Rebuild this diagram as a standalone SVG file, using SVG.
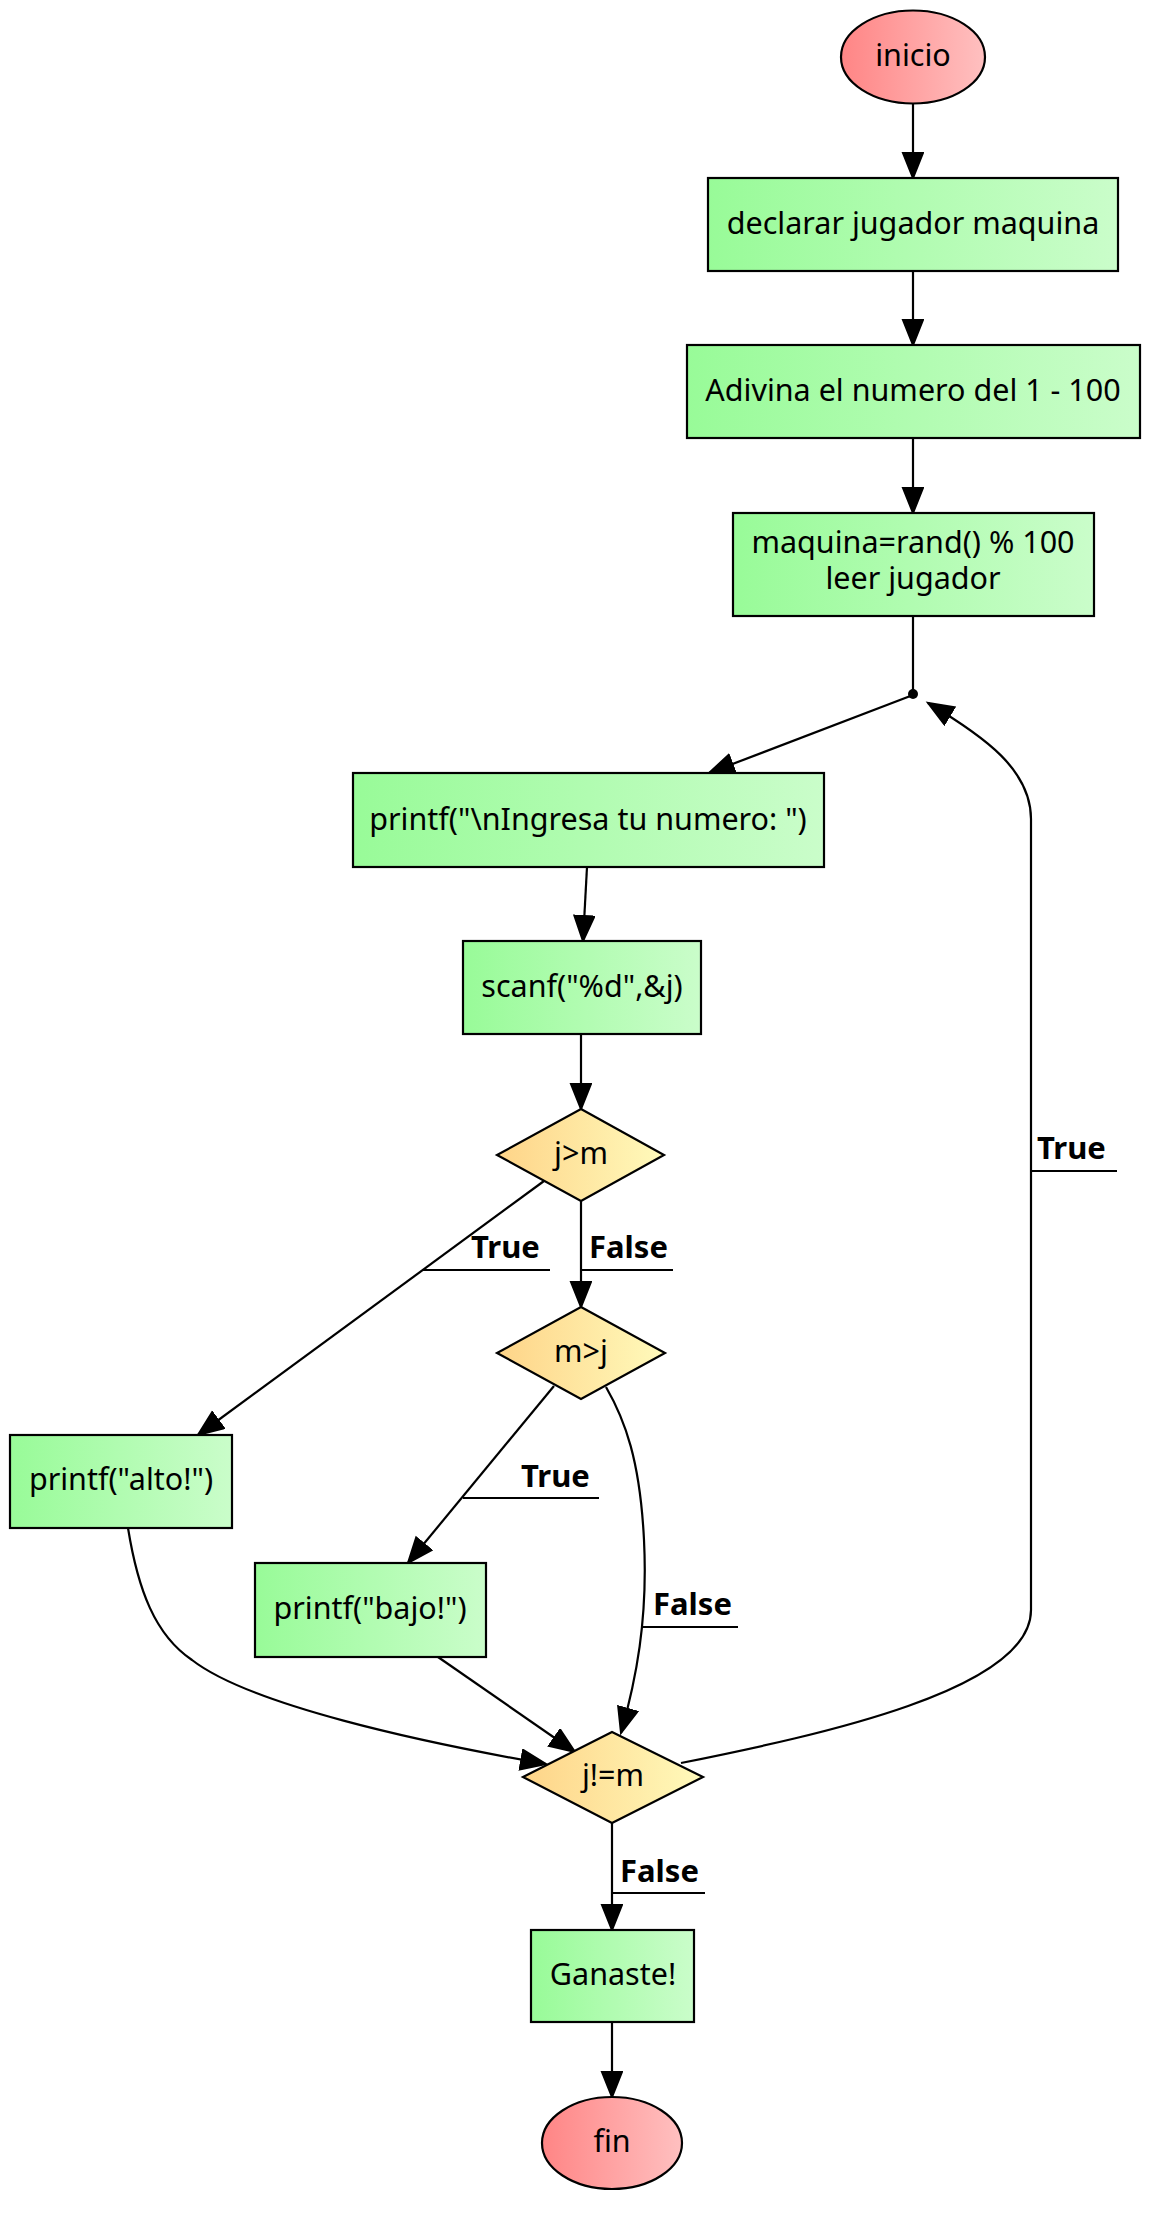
<svg xmlns="http://www.w3.org/2000/svg" width="1164" height="2214" viewBox="0 0 1164 2214">
<defs>
<linearGradient id="gG" x1="0" y1="0" x2="1" y2="0"><stop offset="0" stop-color="#98fb98"/><stop offset="1" stop-color="#cafdca"/></linearGradient>
<linearGradient id="gO" x1="0" y1="0" x2="1" y2="0"><stop offset="0" stop-color="#fed488"/><stop offset="1" stop-color="#fffabb"/></linearGradient>
<linearGradient id="gR" x1="0" y1="0" x2="1" y2="0"><stop offset="0" stop-color="#ff8585"/><stop offset="1" stop-color="#ffc0c0"/></linearGradient>
<marker id="arr" markerWidth="30" markerHeight="24" refX="26" refY="11" orient="auto" markerUnits="userSpaceOnUse"><path d="M1,1 L26,11 L1,21 z" fill="#000" stroke="#000" stroke-width="2"/></marker>
</defs>
<style>
.box{fill:url(#gG);stroke:#000;stroke-width:2.2}
.dia{fill:url(#gO);stroke:#000;stroke-width:2.2}
.ell{fill:url(#gR);stroke:#000;stroke-width:2.2}
.t{font-family:"Noto Sans","Open Sans","DejaVu Sans",sans-serif;font-size:30.5px;fill:#000;text-anchor:middle}
.lbl{font-family:"Noto Sans","Open Sans","DejaVu Sans",sans-serif;font-size:31px;font-weight:bold;fill:#000}
.e{fill:none;stroke:#000;stroke-width:2.2}
.ea{fill:none;stroke:#000;stroke-width:2.2;marker-end:url(#arr)}
.ul{stroke:#000;stroke-width:2.2}
</style>
<rect width="1164" height="2214" fill="#fff"/>
<g id="connectors">
<path class="ea" d="M913,104 L913,178"/>
<path class="ea" d="M913,271 L913,345"/>
<path class="ea" d="M913,438 L913,513"/>
<path class="e" d="M913,616 L913,694"/>
<path class="ea" d="M913,695 L709,773"/>
<path class="ea" d="M587,867 L583,941"/>
<path class="ea" d="M581,1034 L581,1109"/>
<path class="ea" d="M581,1201 L581,1307"/>
<path class="ea" d="M544,1181 L198,1435"/>
<path class="ea" d="M554,1386 L408,1563"/>
<path class="ea" d="M606,1387 C625,1420 640,1460 644,1540 C648,1620 636,1680 621,1733"/>
<path class="ea" d="M438,1657 L575,1752"/>
<path class="ea" d="M128,1528 C138,1590 155,1635 192,1660 C250,1705 420,1742 546,1764"/>
<path class="ea" d="M612,1823 L612,1930"/>
<path class="ea" d="M612,2022 L612,2097"/>
<path class="ea" d="M681,1763 C820,1735 1031,1690 1031,1610 L1031,819 C1031,770 985,737 928,703"/>
<circle cx="913" cy="694" r="5" fill="#000"/>
<text class="lbl" x="471" y="1258">True</text>
<line class="ul" x1="422" y1="1270" x2="550" y2="1270"/>
<text class="lbl" x="589" y="1258">False</text>
<line class="ul" x1="581" y1="1270" x2="673" y2="1270"/>
<text class="lbl" x="521" y="1487">True</text>
<line class="ul" x1="463" y1="1498" x2="599" y2="1498"/>
<text class="lbl" x="653" y="1615">False</text>
<line class="ul" x1="642" y1="1627" x2="738" y2="1627"/>
<text class="lbl" x="1037" y="1159">True</text>
<line class="ul" x1="1031" y1="1171" x2="1117" y2="1171"/>
<text class="lbl" x="620" y="1882">False</text>
<line class="ul" x1="612" y1="1893" x2="705" y2="1893"/>
</g>
<g id="inicio"><ellipse class="ell" cx="913" cy="57" rx="72" ry="46.5"/><text class="t" x="913" y="66">inicio</text></g>
<g id="declarar"><rect class="box" x="708" y="178" width="410" height="93"/><text class="t" x="913" y="234">declarar jugador maquina</text></g>
<g id="adivina"><rect class="box" x="687" y="345" width="453" height="93"/><text class="t" x="913" y="401">Adivina el numero del 1 - 100</text></g>
<g id="maquina"><rect class="box" x="733" y="513" width="361" height="103"/><text class="t" x="913" y="553">maquina=rand() % 100</text><text class="t" x="913" y="589">leer jugador</text></g>
<g id="printf_ingresa"><rect class="box" x="353" y="773" width="471" height="94"/><text class="t" x="588" y="830">printf("\nIngresa tu numero: ")</text></g>
<g id="scanf"><rect class="box" x="463" y="941" width="238" height="93"/><text class="t" x="582" y="997">scanf("%d",&amp;j)</text></g>
<g id="j_gt_m"><polygon class="dia" points="581,1109 664,1155 581,1201 497,1155"/><text class="t" x="581" y="1164">j&gt;m</text></g>
<g id="m_gt_j"><polygon class="dia" points="581,1307 665,1353 581,1399 497,1353"/><text class="t" x="581" y="1362">m&gt;j</text></g>
<g id="alto"><rect class="box" x="10" y="1435" width="222" height="93"/><text class="t" x="121" y="1490">printf("alto!")</text></g>
<g id="bajo"><rect class="box" x="255" y="1563" width="231" height="94"/><text class="t" x="370" y="1619">printf("bajo!")</text></g>
<g id="j_ne_m"><polygon class="dia" points="612,1732 703,1777 612,1823 523,1777"/><text class="t" x="613" y="1786">j!=m</text></g>
<g id="ganaste"><rect class="box" x="531" y="1930" width="163" height="92"/><text class="t" x="613" y="1985">Ganaste!</text></g>
<g id="fin"><ellipse class="ell" cx="612" cy="2143" rx="70" ry="46"/><text class="t" x="612" y="2152">fin</text></g>
</svg>
